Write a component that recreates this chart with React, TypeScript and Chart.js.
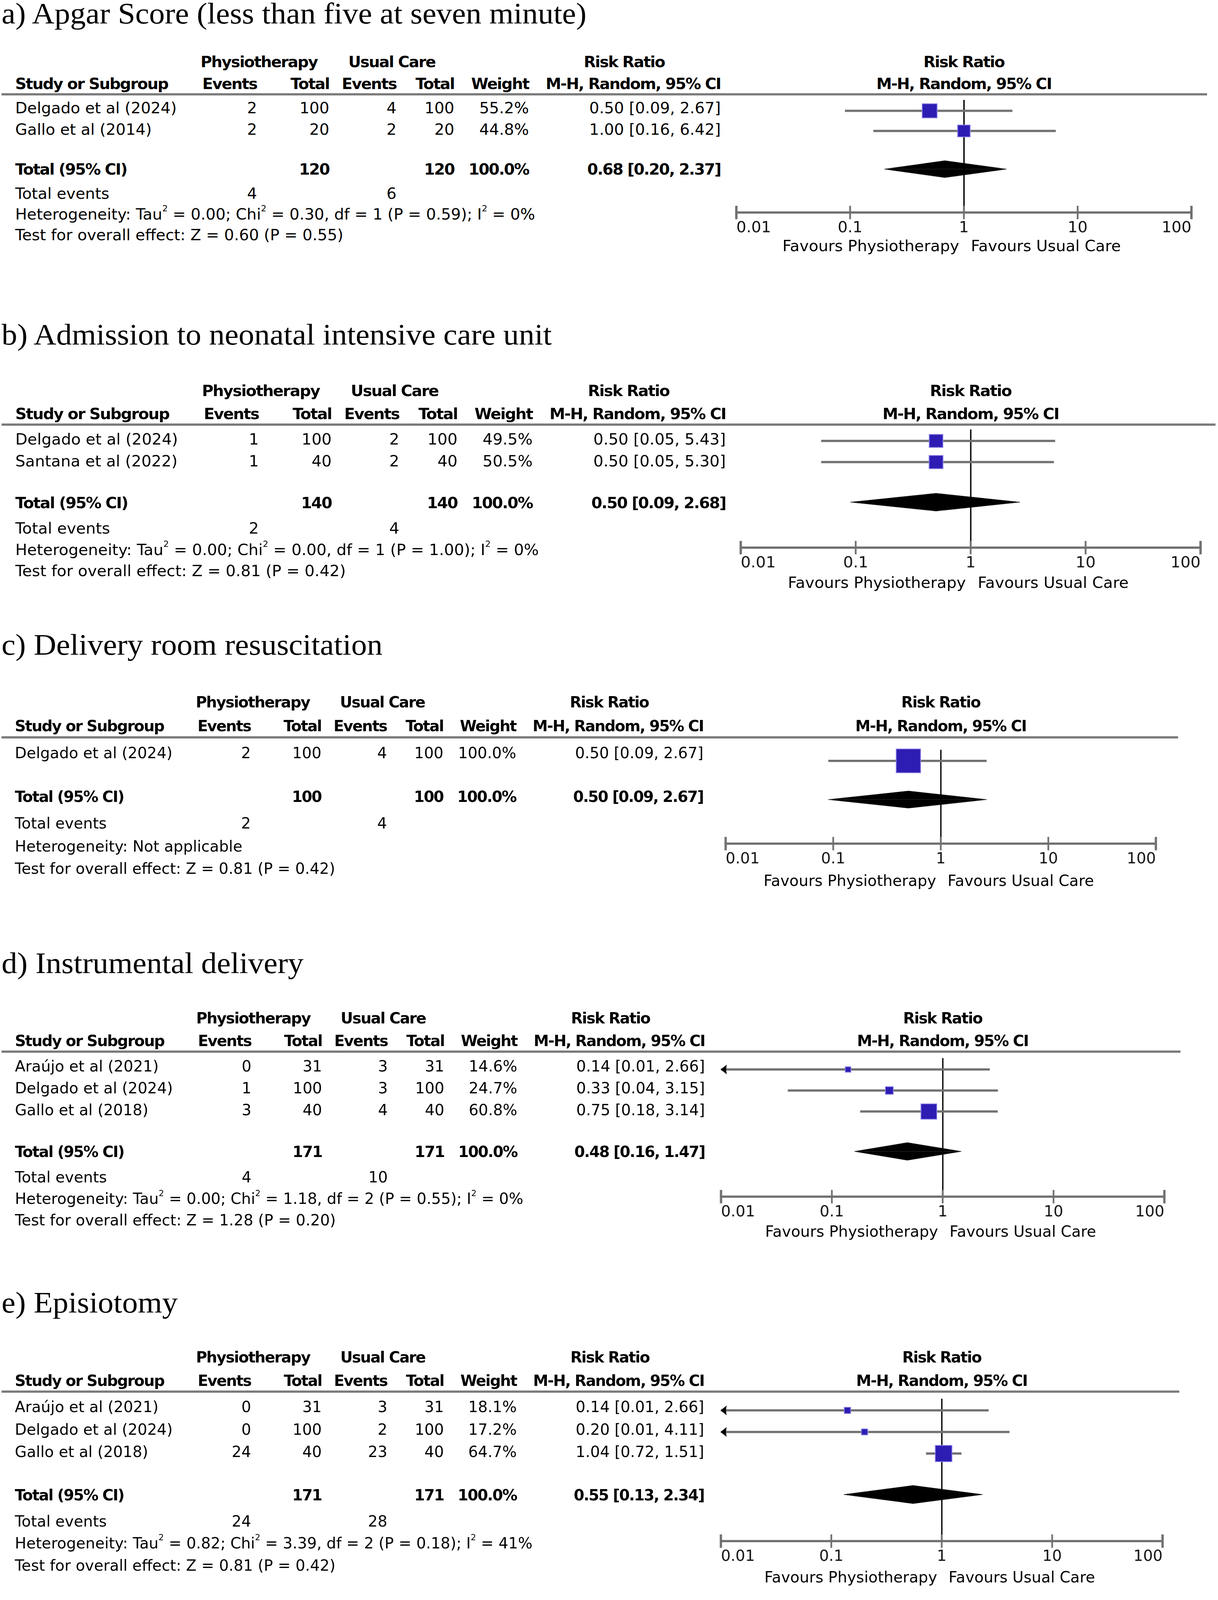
import React, { useEffect, useLayoutEffect, useRef, useState } from 'react';
import { Chart, registerables } from 'chart.js';

Chart.register(...registerables);

// ================= DATA =================
const TICK_VALUES = [0.01, 0.1, 1, 10, 100];
const TICK_LABELS = ['0.01', '0.1', '1', '10', '100'];
const FAVOURS_LEFT = 'Favours Physiotherapy';
const FAVOURS_RIGHT = 'Favours Usual Care';

// a)
const A_TITLE = 'a) Apgar Score (less than five at seven minute)';
const A_STUDIES = ['Delgado et al (2024)', 'Gallo et al (2014)'];
const A_PHYSIO_EVENTS = [2, 2];
const A_PHYSIO_TOTAL = [100, 20];
const A_UC_EVENTS = [4, 2];
const A_UC_TOTAL = [100, 20];
const A_WEIGHT = [55.2, 44.8];
const A_RR = [0.5, 1.0];
const A_LO = [0.09, 0.16];
const A_HI = [2.67, 6.42];
const A_TOTALS = [120, 120];
const A_TOTAL_WEIGHT = 100.0;
const A_POOLED = [0.68, 0.2, 2.37];
const A_TOTAL_EVENTS = [4, 6];
const A_HET = [0.0, 0.3, 1, 0.59, 0]; // Tau2, Chi2, df, P, I2
const A_EFFECT = [0.6, 0.55]; // Z, P

// b)
const B_TITLE = 'b) Admission to neonatal intensive care unit';
const B_STUDIES = ['Delgado et al (2024)', 'Santana et al (2022)'];
const B_PHYSIO_EVENTS = [1, 1];
const B_PHYSIO_TOTAL = [100, 40];
const B_UC_EVENTS = [2, 2];
const B_UC_TOTAL = [100, 40];
const B_WEIGHT = [49.5, 50.5];
const B_RR = [0.5, 0.5];
const B_LO = [0.05, 0.05];
const B_HI = [5.43, 5.3];
const B_TOTALS = [140, 140];
const B_TOTAL_WEIGHT = 100.0;
const B_POOLED = [0.5, 0.09, 2.68];
const B_TOTAL_EVENTS = [2, 4];
const B_HET = [0.0, 0.0, 1, 1.0, 0];
const B_EFFECT = [0.81, 0.42];

// c)
const C_TITLE = 'c) Delivery room resuscitation';
const C_STUDIES = ['Delgado et al (2024)'];
const C_PHYSIO_EVENTS = [2];
const C_PHYSIO_TOTAL = [100];
const C_UC_EVENTS = [4];
const C_UC_TOTAL = [100];
const C_WEIGHT = [100.0];
const C_RR = [0.5];
const C_LO = [0.09];
const C_HI = [2.67];
const C_TOTALS = [100, 100];
const C_TOTAL_WEIGHT = 100.0;
const C_POOLED = [0.5, 0.09, 2.67];
const C_TOTAL_EVENTS = [2, 4];
const C_HET: number[] | null = null;
const C_EFFECT = [0.81, 0.42];

// d)
const D_TITLE = 'd) Instrumental delivery';
const D_STUDIES = ['Araújo et al (2021)', 'Delgado et al (2024)', 'Gallo et al (2018)'];
const D_PHYSIO_EVENTS = [0, 1, 3];
const D_PHYSIO_TOTAL = [31, 100, 40];
const D_UC_EVENTS = [3, 3, 4];
const D_UC_TOTAL = [31, 100, 40];
const D_WEIGHT = [14.6, 24.7, 60.8];
const D_RR = [0.14, 0.33, 0.75];
const D_LO = [0.01, 0.04, 0.18];
const D_HI = [2.66, 3.15, 3.14];
const D_TOTALS = [171, 171];
const D_TOTAL_WEIGHT = 100.0;
const D_POOLED = [0.48, 0.16, 1.47];
const D_TOTAL_EVENTS = [4, 10];
const D_HET = [0.0, 1.18, 2, 0.55, 0];
const D_EFFECT = [1.28, 0.2];

// e)
const E_TITLE = 'e) Episiotomy';
const E_STUDIES = ['Araújo et al (2021)', 'Delgado et al (2024)', 'Gallo et al (2018)'];
const E_PHYSIO_EVENTS = [0, 0, 24];
const E_PHYSIO_TOTAL = [31, 100, 40];
const E_UC_EVENTS = [3, 2, 23];
const E_UC_TOTAL = [31, 100, 40];
const E_WEIGHT = [18.1, 17.2, 64.7];
const E_RR = [0.14, 0.2, 1.04];
const E_LO = [0.01, 0.01, 0.72];
const E_HI = [2.66, 4.11, 1.51];
const E_TOTALS = [171, 171];
const E_TOTAL_WEIGHT = 100.0;
const E_POOLED = [0.55, 0.13, 2.34];
const E_TOTAL_EVENTS = [24, 28];
const E_HET = [0.82, 3.39, 2, 0.18, 41];
const E_EFFECT = [0.81, 0.42];

type PanelData = {
  title: string;
  studies: string[];
  pe: number[];
  pt: number[];
  ue: number[];
  ut: number[];
  weight: number[];
  rr: number[];
  lo: number[];
  hi: number[];
  totals: number[];
  totalWeight: number;
  pooled: number[];
  totalEvents: number[];
  het: number[] | null;
  effect: number[];
};

const PANELS: PanelData[] = [
  { title: A_TITLE, studies: A_STUDIES, pe: A_PHYSIO_EVENTS, pt: A_PHYSIO_TOTAL, ue: A_UC_EVENTS, ut: A_UC_TOTAL, weight: A_WEIGHT, rr: A_RR, lo: A_LO, hi: A_HI, totals: A_TOTALS, totalWeight: A_TOTAL_WEIGHT, pooled: A_POOLED, totalEvents: A_TOTAL_EVENTS, het: A_HET, effect: A_EFFECT },
  { title: B_TITLE, studies: B_STUDIES, pe: B_PHYSIO_EVENTS, pt: B_PHYSIO_TOTAL, ue: B_UC_EVENTS, ut: B_UC_TOTAL, weight: B_WEIGHT, rr: B_RR, lo: B_LO, hi: B_HI, totals: B_TOTALS, totalWeight: B_TOTAL_WEIGHT, pooled: B_POOLED, totalEvents: B_TOTAL_EVENTS, het: B_HET, effect: B_EFFECT },
  { title: C_TITLE, studies: C_STUDIES, pe: C_PHYSIO_EVENTS, pt: C_PHYSIO_TOTAL, ue: C_UC_EVENTS, ut: C_UC_TOTAL, weight: C_WEIGHT, rr: C_RR, lo: C_LO, hi: C_HI, totals: C_TOTALS, totalWeight: C_TOTAL_WEIGHT, pooled: C_POOLED, totalEvents: C_TOTAL_EVENTS, het: C_HET, effect: C_EFFECT },
  { title: D_TITLE, studies: D_STUDIES, pe: D_PHYSIO_EVENTS, pt: D_PHYSIO_TOTAL, ue: D_UC_EVENTS, ut: D_UC_TOTAL, weight: D_WEIGHT, rr: D_RR, lo: D_LO, hi: D_HI, totals: D_TOTALS, totalWeight: D_TOTAL_WEIGHT, pooled: D_POOLED, totalEvents: D_TOTAL_EVENTS, het: D_HET, effect: D_EFFECT },
  { title: E_TITLE, studies: E_STUDIES, pe: E_PHYSIO_EVENTS, pt: E_PHYSIO_TOTAL, ue: E_UC_EVENTS, ut: E_UC_TOTAL, weight: E_WEIGHT, rr: E_RR, lo: E_LO, hi: E_HI, totals: E_TOTALS, totalWeight: E_TOTAL_WEIGHT, pooled: E_POOLED, totalEvents: E_TOTAL_EVENTS, het: E_HET, effect: E_EFFECT },
];

// ================= LAYOUT / STYLE =================
const PAGE_W = 3118;
const PAGE_H = 4292;
const PANEL_LAYOUT = [
  { lineY: 253, titleY: 63, sx: 1.0, sy: 0.96 },
  { lineY: 1138.5, titleY: 924, sx: 1.007, sy: 1.0 },
  { lineY: 1978, titleY: 1756, sx: 0.976, sy: 1.05 },
  { lineY: 2821, titleY: 2610, sx: 0.978, sy: 1.0 },
  { lineY: 3733, titleY: 3521, sx: 0.977, sy: 1.03 },
];

const FONT = '"DejaVu Sans", Verdana, sans-serif';
const SERIF = '"Liberation Serif", "Times New Roman", serif';
const FS = 40;
const TITLE_FS = 80;
const TITLE_X = 4;

const X_STUDY = 39;
const X_EV1 = 658;
const X_TOT1 = 843;
const X_EV2 = 1015;
const X_TOT2 = 1163;
const X_WEIGHT = 1354;
const X_CI = 1845;
const X_PHYSIO_HDR = 663;
const X_UC_HDR = 1003;
const X_RR_HDR = 1598;
const X_AXIS_MIN = 1882;
const X_AXIS_MAX = 3053;
const LINE_X0 = 4;
const LINE_X1 = 3090;

const ROW = 59;
const FIRST = 53;
const TOTAL_GAP = 112;
const TOTEV_GAP = 68;
const HET_GAP = 58;
const TEST_GAP = 57;
const AXIS_GAP = 38;
const MARK_UP = 21;
const HDR1 = 76;
const HDR2 = 15;
const FAV_GAP = 108;
const DIAMOND_H = 0.42;

const PADX = 26;
const PADT = 14;
const XAXIS_H = 90;
const TICK_HALF = 18;
const TICK_WIDTHS = [6, 4.5, 4.5, 4.5, 6];

const GREY = '#707070';
const HEADER_GREY = '#7a7a7a';
const BOX_FILL = '#2d1db3';
const BOX_EDGE = '#8f86e8';

const XMIN = TICK_VALUES[0];
const XMAX = TICK_VALUES[TICK_VALUES.length - 1];

const f2 = (v: number) => v.toFixed(2);
const ciText = (rr: number, lo: number, hi: number) => `${f2(rr)} [${f2(lo)}, ${f2(hi)}]`;
const boxSide = (w: number) => (6 + 0.55 * w) * 1.05;

// left-pointing arrow head whose tip sits at the centre of the image
function makeArrow(): HTMLCanvasElement | string {
  if (typeof document === 'undefined') return 'triangle';
  const c = document.createElement('canvas');
  c.width = 36;
  c.height = 30;
  const g = c.getContext('2d');
  if (!g) return 'triangle';
  g.fillStyle = '#000';
  g.beginPath();
  g.moveTo(17, 15);
  g.lineTo(33, 2);
  g.lineTo(31, 15);
  g.lineTo(33, 28);
  g.closePath();
  g.fill();
  return c;
}

// ================= COMPONENTS =================
function Txt(props: {
  x: number;
  y: number;
  align?: 'left' | 'right' | 'center';
  bold?: boolean;
  size?: number;
  serif?: boolean;
  children: React.ReactNode;
}) {
  const { x, y, align = 'left', bold = false, size = FS, serif = false, children } = props;
  const asc = serif ? 0.891 : 0.928;
  const content = serif ? 1.107 : 1.164;
  const lh = serif ? Math.round(size * 0.9) : size;
  const baseFromTop = (lh - content * size) / 2 + asc * size;
  const tx = align === 'right' ? 'translateX(-100%)' : align === 'center' ? 'translateX(-50%)' : 'none';
  return (
    <div
      style={{
        position: 'absolute',
        left: x,
        top: y - baseFromTop,
        fontSize: size,
        lineHeight: `${lh}px`,
        fontFamily: serif ? SERIF : FONT,
        fontWeight: bold ? 'bold' : 'normal',
        letterSpacing: bold ? '-2px' : 'normal',
        whiteSpace: 'nowrap',
        transform: tx,
        color: '#000',
      }}
    >
      {children}
    </div>
  );
}

function Sup({ children }: { children: React.ReactNode }) {
  return <span style={{ fontSize: 22, verticalAlign: '22px', lineHeight: 0 }}>{children}</span>;
}

function ForestChart(props: { d: PanelData; top: number; sy: number; chartH: number }) {
  const { d, top, sy, chartH } = props;
  const ref = useRef<HTMLCanvasElement | null>(null);
  const width = X_AXIS_MAX - X_AXIS_MIN + 2 * PADX;
  const height = PADT + chartH + XAXIS_H;

  useEffect(() => {
    if (!ref.current) return;
    const n = d.studies.length;
    const vMin = -(FIRST - MARK_UP) / ROW;
    const vMax = (chartH / sy - (FIRST - MARK_UP)) / ROW;
    const datasets: any[] = [];
    for (let i = 0; i < n; i++) {
      datasets.push({
        type: 'line',
        data: [
          { x: Math.max(d.lo[i], XMIN), y: i },
          { x: Math.min(d.hi[i], XMAX), y: i },
        ],
        borderColor: GREY,
        borderWidth: 6,
        borderCapStyle: 'butt',
        pointRadius: 0,
        fill: false,
        clip: false,
        order: 10,
      });
    }
    datasets.push({
      type: 'scatter',
      data: d.rr.map((v, i) => ({ x: v, y: i })),
      pointStyle: 'rect',
      pointRadius: d.weight.map((w) => boxSide(w) / Math.SQRT2),
      backgroundColor: BOX_FILL,
      borderColor: BOX_EDGE,
      borderWidth: 2,
      clip: false,
      order: 2,
    });
    const arrows = d.lo
      .map((v, i) => ({ v, i }))
      .filter((o) => o.v <= XMIN)
      .map((o) => ({ x: XMIN, y: o.i }));
    if (arrows.length) {
      datasets.push({
        type: 'scatter',
        data: arrows,
        pointStyle: makeArrow(),
        pointRadius: 15,
        backgroundColor: '#000',
        borderColor: '#000',
        borderWidth: 0,
        clip: false,
        order: 1,
      });
    }
    const t = n - 1 + TOTAL_GAP / ROW;
    const [prr, plo, phi] = d.pooled;
    [-DIAMOND_H, DIAMOND_H].forEach((h) => {
      datasets.push({
        type: 'line',
        data: [
          { x: plo, y: t },
          { x: prr, y: t + h },
          { x: phi, y: t },
        ],
        borderColor: '#000',
        borderWidth: 1,
        backgroundColor: '#000',
        fill: { value: t },
        pointRadius: 0,
        clip: false,
        order: 5,
      });
    });
    // axis tick marks crossing the axis line
    datasets.push({
      type: 'scatter',
      data: TICK_VALUES.map((v) => ({ x: v, y: vMax })),
      pointStyle: 'line',
      rotation: 90,
      pointRadius: TICK_HALF,
      borderColor: GREY,
      borderWidth: TICK_WIDTHS,
      clip: false,
      order: 0,
    });

    const chart = new Chart(ref.current, {
      type: 'scatter',
      data: { datasets },
      options: {
        animation: false,
        responsive: false,
        maintainAspectRatio: false,
        devicePixelRatio: 1,
        events: [],
        layout: { padding: { left: PADX, right: PADX, top: PADT, bottom: 0 } },
        plugins: { legend: { display: false }, tooltip: { enabled: false } },
        scales: {
          x: {
            type: 'logarithmic',
            position: 'bottom',
            min: XMIN,
            max: XMAX,
            z: 1,
            afterBuildTicks: (scale: any) => {
              scale.ticks = TICK_VALUES.map((v) => ({ value: v }));
            },
            afterFit: (scale: any) => {
              scale.height = XAXIS_H;
            },
            border: { display: true, color: GREY, width: 6 },
            grid: {
              display: true,
              drawOnChartArea: true,
              drawTicks: true,
              tickLength: TICK_HALF,
              tickWidth: 1,
              tickColor: 'rgba(0,0,0,0)',
              color: (ctx: any) => (ctx.tick && ctx.tick.value === 1 ? '#000' : 'rgba(0,0,0,0)'),
              lineWidth: (ctx: any) => (ctx.tick && ctx.tick.value === 1 ? 3.5 : 1),
            },
            ticks: {
              align: 'inner',
              autoSkip: false,
              maxRotation: 0,
              minRotation: 0,
              padding: 1,
              color: '#111',
              font: { family: FONT, size: FS },
              callback: (value: any, index: number) => TICK_LABELS[index] ?? String(value),
            },
          },
          y: {
            type: 'linear',
            display: false,
            reverse: true,
            min: vMin,
            max: vMax,
          },
        },
      } as any,
    });
    return () => chart.destroy();
  }, [d, sy, chartH]);

  return (
    <canvas
      ref={ref}
      width={width}
      height={height}
      style={{
        position: 'absolute',
        left: X_AXIS_MIN - PADX,
        top: top - PADT,
        width,
        height,
        display: 'block',
      }}
    />
  );
}

function Panel({ d, lay }: { d: PanelData; lay: (typeof PANEL_LAYOUT)[number] }) {
  const n = d.studies.length;
  const { lineY: L, sx, sy } = lay;
  const rowBase = (i: number) => L + (FIRST + i * ROW) * sy;
  const totalRel = FIRST + (n - 1) * ROW + TOTAL_GAP;
  const totalBase = L + totalRel * sy;
  const totEvBase = L + (totalRel + TOTEV_GAP) * sy;
  const hetBase = L + (totalRel + TOTEV_GAP + HET_GAP) * sy;
  const testBase = L + (totalRel + TOTEV_GAP + HET_GAP + TEST_GAP) * sy;
  const axisY = L + (totalRel + TOTEV_GAP + AXIS_GAP) * sy;
  const chartH = Math.round(axisY - L);
  const x1 = (X_AXIS_MIN + X_AXIS_MAX) / 2;
  const hdr1 = L - HDR1 * sy;
  const hdr2 = L - HDR2 * sy;
  const favY = L + chartH + FAV_GAP * sy;

  return (
    <>
      <Txt serif size={TITLE_FS} x={TITLE_X} y={lay.titleY}>
        {d.title}
      </Txt>
      <div
        style={{
          position: 'absolute',
          left: 0,
          top: 0,
          width: PAGE_W,
          height: PAGE_H,
          transform: `scaleX(${sx})`,
          transformOrigin: '0 0',
          pointerEvents: 'none',
        }}
      >
        {/* header row 1 */}
        <Txt bold x={X_PHYSIO_HDR} y={hdr1} align="center">Physiotherapy</Txt>
        <Txt bold x={X_UC_HDR} y={hdr1} align="center">Usual Care</Txt>
        <Txt bold x={X_RR_HDR} y={hdr1} align="center">Risk Ratio</Txt>
        <Txt bold x={x1} y={hdr1} align="center">Risk Ratio</Txt>
        {/* header row 2 */}
        <Txt bold x={X_STUDY} y={hdr2}>Study or Subgroup</Txt>
        <Txt bold x={X_EV1} y={hdr2} align="right">Events</Txt>
        <Txt bold x={X_TOT1} y={hdr2} align="right">Total</Txt>
        <Txt bold x={X_EV2} y={hdr2} align="right">Events</Txt>
        <Txt bold x={X_TOT2} y={hdr2} align="right">Total</Txt>
        <Txt bold x={X_WEIGHT} y={hdr2} align="right">Weight</Txt>
        <Txt bold x={X_CI} y={hdr2} align="right">M-H, Random, 95% CI</Txt>
        <Txt bold x={x1} y={hdr2} align="center">M-H, Random, 95% CI</Txt>
        {/* header rule */}
        <div
          style={{
            position: 'absolute',
            left: LINE_X0,
            top: L - 3,
            width: LINE_X1 - LINE_X0,
            height: 6,
            background: HEADER_GREY,
          }}
        />
        {/* study rows */}
        {d.studies.map((s, i) => (
          <React.Fragment key={s}>
            <Txt x={X_STUDY} y={rowBase(i)}>{s}</Txt>
            <Txt x={X_EV1} y={rowBase(i)} align="right">{d.pe[i]}</Txt>
            <Txt x={X_TOT1} y={rowBase(i)} align="right">{d.pt[i]}</Txt>
            <Txt x={X_EV2} y={rowBase(i)} align="right">{d.ue[i]}</Txt>
            <Txt x={X_TOT2} y={rowBase(i)} align="right">{d.ut[i]}</Txt>
            <Txt x={X_WEIGHT} y={rowBase(i)} align="right">{`${d.weight[i].toFixed(1)}%`}</Txt>
            <Txt x={X_CI} y={rowBase(i)} align="right">{ciText(d.rr[i], d.lo[i], d.hi[i])}</Txt>
          </React.Fragment>
        ))}
        {/* total row */}
        <Txt bold x={X_STUDY} y={totalBase}>Total (95% CI)</Txt>
        <Txt bold x={X_TOT1} y={totalBase} align="right">{d.totals[0]}</Txt>
        <Txt bold x={X_TOT2} y={totalBase} align="right">{d.totals[1]}</Txt>
        <Txt bold x={X_WEIGHT} y={totalBase} align="right">{`${d.totalWeight.toFixed(1)}%`}</Txt>
        <Txt bold x={X_CI} y={totalBase} align="right">{ciText(d.pooled[0], d.pooled[1], d.pooled[2])}</Txt>
        {/* total events */}
        <Txt x={X_STUDY} y={totEvBase}>Total events</Txt>
        <Txt x={X_EV1} y={totEvBase} align="right">{d.totalEvents[0]}</Txt>
        <Txt x={X_EV2} y={totEvBase} align="right">{d.totalEvents[1]}</Txt>
        {/* heterogeneity */}
        <Txt x={X_STUDY} y={hetBase}>
          {d.het ? (
            <>
              Heterogeneity: Tau<Sup>2</Sup> = {f2(d.het[0])}; Chi<Sup>2</Sup> = {f2(d.het[1])}, df = {d.het[2]} (P ={' '}
              {f2(d.het[3])}); I<Sup>2</Sup> = {d.het[4]}%
            </>
          ) : (
            'Heterogeneity: Not applicable'
          )}
        </Txt>
        <Txt x={X_STUDY} y={testBase}>
          {`Test for overall effect: Z = ${f2(d.effect[0])} (P = ${f2(d.effect[1])})`}
        </Txt>
        {/* forest plot */}
        <ForestChart d={d} top={L} sy={sy} chartH={chartH} />
        <Txt x={x1 - 12} y={favY} align="right">{FAVOURS_LEFT}</Txt>
        <Txt x={x1 + 18} y={favY}>{FAVOURS_RIGHT}</Txt>
      </div>
    </>
  );
}

function readViewport() {
  if (typeof window === 'undefined') return { w: PAGE_W, h: PAGE_H };
  return { w: window.innerWidth || PAGE_W, h: window.innerHeight || PAGE_H };
}

export default function App() {
  const [vp, setVp] = useState(readViewport);

  useLayoutEffect(() => {
    document.documentElement.style.overflow = 'hidden';
    document.body.style.overflow = 'hidden';
    const onResize = () => setVp(readViewport());
    onResize();
    window.addEventListener('resize', onResize);
    return () => window.removeEventListener('resize', onResize);
  }, []);

  // fit the full 3118x4292 figure into the visible viewport
  const kx = vp.w / PAGE_W;
  const ky = vp.h / PAGE_H;

  return (
    <div
      style={{
        position: 'absolute',
        left: 0,
        top: 0,
        width: PAGE_W,
        height: PAGE_H,
        background: '#fff',
        overflow: 'hidden',
        transform: `scale(${kx}, ${ky})`,
        transformOrigin: '0 0',
      }}
    >
      {PANELS.map((d, i) => (
        <Panel key={d.title} d={d} lay={PANEL_LAYOUT[i]} />
      ))}
    </div>
  );
}
